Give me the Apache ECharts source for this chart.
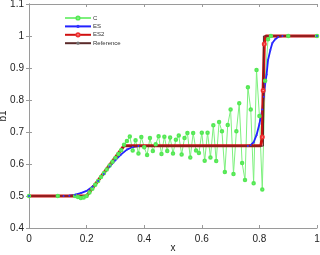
<!DOCTYPE html>
<html><head><meta charset="utf-8">
<script src="https://cdn.jsdelivr.net/npm/echarts@6/dist/echarts.min.js"></script>
<style>html,body{margin:0;padding:0;background:#fff}#c{width:320px;height:255px}</style>
</head><body><div id="c"></div>
<script>
const seriesNames = ['C', 'ES', 'ES2', 'Reference'];
const xTicks = [0, 0.2, 0.4, 0.6, 0.8, 1];
const yTicks = [0.4, 0.5, 0.6, 0.7, 0.8, 0.9, 1, 1.1];

const cX = [0, 0.1, 0.16, 0.17, 0.18, 0.19, 0.20, 0.21, 0.22, 0.23, 0.24, 0.25, 0.26, 0.27, 0.28, 0.29, 0.30,
  0.31, 0.32, 0.33, 0.34, 0.35, 0.36, 0.37, 0.38, 0.39, 0.40, 0.41, 0.42, 0.43, 0.44, 0.45, 0.46, 0.47, 0.48,
  0.49, 0.50, 0.51, 0.52, 0.53, 0.54, 0.55, 0.56, 0.57, 0.58, 0.59, 0.60, 0.61, 0.62, 0.63, 0.64, 0.65, 0.66,
  0.67, 0.68, 0.69, 0.70, 0.71, 0.72, 0.73, 0.74, 0.75, 0.76, 0.77, 0.78, 0.79, 0.80, 0.81, 0.82, 0.83, 0.84, 0.9, 1.0];
const cY = [0.5, 0.5, 0.5, 0.497, 0.494, 0.495, 0.5, 0.511, 0.523, 0.535, 0.547, 0.559, 0.571, 0.583, 0.595, 0.607, 0.619,
  0.631, 0.643, 0.66, 0.672, 0.686, 0.642, 0.674, 0.633, 0.684, 0.652, 0.628, 0.681, 0.641, 0.662, 0.687, 0.631, 0.685, 0.641,
  0.683, 0.633, 0.676, 0.689, 0.63, 0.681, 0.697, 0.62, 0.697, 0.642, 0.634, 0.698, 0.61, 0.698, 0.62, 0.721, 0.609, 0.731,
  0.702, 0.575, 0.722, 0.77, 0.569, 0.702, 0.79, 0.603, 0.55, 0.84, 0.77, 0.54, 0.894, 0.75, 0.52, 0.86, 0.99, 1.0, 1.0, 1.0];

const esX = [0, 0.12, 0.14, 0.16, 0.18, 0.20, 0.22, 0.24, 0.26, 0.28, 0.30, 0.32, 0.34, 0.36, 0.38, 0.76, 0.77, 0.78,
  0.79, 0.80, 0.81, 0.815, 0.82, 0.825, 0.83, 0.838, 0.845, 0.855, 0.865, 0.88, 1.0];
const esY = [0.5, 0.5, 0.501, 0.504, 0.509, 0.516, 0.529, 0.547, 0.569, 0.592, 0.612, 0.63, 0.645, 0.653, 0.656, 0.656, 0.659, 0.668,
  0.69, 0.725, 0.77, 0.81, 0.85, 0.88, 0.925, 0.956, 0.978, 0.99, 0.997, 1.0, 1.0];

const es2X = [0, 0.2, 0.33, 0.805, 0.81, 0.813, 0.817, 0.822, 1.0];
const es2Y = [0.5, 0.5, 0.657, 0.657, 0.684, 0.83, 0.975, 1.0, 1.0];
const es2Marked = [false, false, false, false, true, true, true, false, false];

const refX = [0, 0.2, 0.33, 0.814, 0.814, 1.0];
const refY = [0.5, 0.5, 0.656, 0.656, 1.0, 1.0];

const pairs = (xs, ys) => xs.map((x, i) => [x, ys[i]]);
const fmt = v => String(Math.round(v * 10) / 10);

const chart = echarts.init(document.getElementById('c'), null, {renderer: 'canvas'});
const axisCommon = {
  axisLine: {show: true, lineStyle: {color: '#9a9a9a', width: 1}},
  axisTick: {show: true, inside: true, length: 3, lineStyle: {color: '#9a9a9a'}},
  splitLine: {show: false}
};
chart.setOption({
  animation: false,
  textStyle: {fontFamily: 'Liberation Sans, Arial, sans-serif'},
  grid: {left: 29, right: 3, top: 4, bottom: 27, containLabel: false, outerBoundsMode: 'none'},
  legend: {
    orient: 'vertical', left: 64, top: 15, itemWidth: 26, itemHeight: 4, itemGap: 2.4,
    textStyle: {fontSize: 6, color: '#333', padding: [0, 0, 0, -3]},
    padding: 0,
    data: [
      {name: 'C'}, {name: 'ES'}, {name: 'ES2'}, {name: 'Reference'}
    ]
  },
  xAxis: [
    Object.assign({type: 'value', min: xTicks[0], max: xTicks[xTicks.length - 1], interval: 0.2,
      name: 'x', nameLocation: 'middle', nameGap: 20, nameMoveOverlap: false,
      nameTextStyle: {fontSize: 10, color: '#222', verticalAlign: 'middle'},
      axisLabel: {fontSize: 10, color: '#222', margin: 6, formatter: fmt}}, axisCommon),
    Object.assign({type: 'value', position: 'top', min: xTicks[0], max: xTicks[xTicks.length - 1], interval: 0.2,
      axisLabel: {show: false}}, axisCommon)
  ],
  yAxis: [
    Object.assign({type: 'value', min: yTicks[0], max: yTicks[yTicks.length - 1], interval: 0.1,
      name: 'b1', nameLocation: 'middle', nameGap: 21, nameRotate: 90, nameMoveOverlap: false,
      nameTextStyle: {fontSize: 10, color: '#222'},
      axisLabel: {fontSize: 10, color: '#222', margin: 5, formatter: fmt}}, axisCommon),
    Object.assign({type: 'value', position: 'right', min: yTicks[0], max: yTicks[yTicks.length - 1], interval: 0.1,
      axisLabel: {show: false}}, axisCommon)
  ],
  series: [
    {name: seriesNames[0], type: 'line', data: pairs(cX, cY), symbol: 'emptyCircle', symbolSize: 2.5,
      lineStyle: {color: '#7df07d', width: 1}, itemStyle: {color: '#55e855', borderWidth: 1}},
    {name: seriesNames[1], type: 'line', data: pairs(esX, esY), symbol: 'circle', symbolSize: 2,
      lineStyle: {color: '#2222ff', width: 1.8}, itemStyle: {color: '#3333ff'}},
    {name: seriesNames[2], type: 'line',
      data: pairs(es2X, es2Y).map((p, i) => es2Marked[i] ? {value: p} : {value: p, symbol: 'none'}),
      symbol: 'emptyCircle', symbolSize: 3,
      lineStyle: {color: '#d01010', width: 3}, itemStyle: {color: '#ee3030', borderWidth: 1}},
    {name: seriesNames[3], type: 'line', data: pairs(refX, refY), symbol: 'none',
      lineStyle: {color: '#5a2a2a', width: 1}, itemStyle: {color: '#777'}}
  ]
});
</script></body></html>
